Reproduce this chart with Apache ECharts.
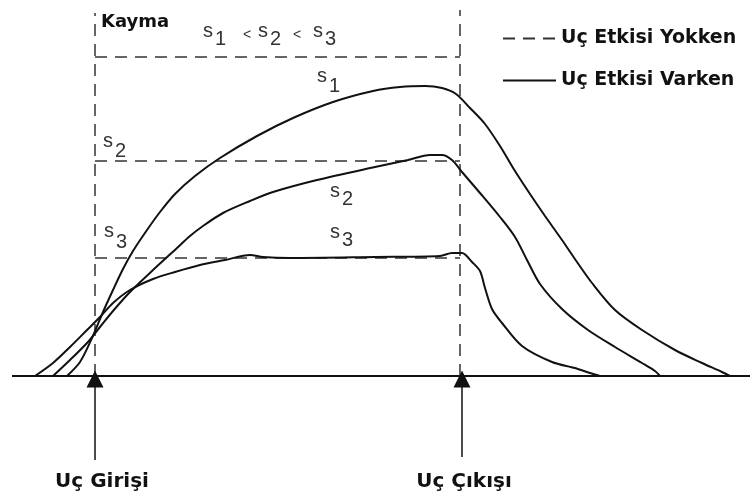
<!DOCTYPE html>
<html><head><meta charset="utf-8">
<script src="https://cdn.jsdelivr.net/npm/echarts@6/dist/echarts.min.js"></script>
<style>html,body{margin:0;padding:0;background:#fff}#c{width:750px;height:502px}</style>
</head><body><div id="c"></div>
<script>
// Slip (Kayma) curves along the contact: x = position, y = slip above baseline
const s1Curve = [[67,0],[80,14],[92,38],[103,64],[113,86],[123,107],[133,125],[147,146],[160,164],[175,182],[195,200],[220,218],[257,240],[293,258],[333,274],[373,285],[400,289],[425,290],[442,288],[456,282],[470,268],[485,252],[500,230],[515,205],[530,182],[545,160],[562,136],[577,114],[592,93],[615,66],[642,46],[675,26],[702,13],[722,4],[730,0]];
const s2Curve = [[53,0],[70,16],[87,33],[100,49],[113,65],[130,84],[153,106],[177,128],[190,140],[203,150],[223,163],[250,175],[273,184],[317,196],[375,209],[408,216],[430,221],[442,221],[452,216],[462,204],[480,183],[500,159],[515,139],[527,116],[540,92],[562,67],[588,46],[615,29],[642,13],[655,5],[660,0]];
const s3Curve = [[35,0],[53,13],[70,29],[87,46],[100,59],[113,73],[130,86],[153,97],[175,104],[200,111],[225,116],[250,121],[263,119],[290,118],[375,119],[440,120],[452,123],[462,123],[472,114],[480,105],[485,88],[492,67],[502,53],[522,30],[552,14],[575,8],[590,3],[600,0]];
// Dashed reference lines (no tip effect)
const entryLine = [[95,0],[95,363]];
const exitLine  = [[460,0],[460,366]];
const s1Level = [[95,319],[460,319]];
const s2Level = [[95,215],[460,215]];
const s3Level = [[95,118],[460,118]];
const baseLine = [[12,0],[750,0]];
const arrows = [[[95,-84],[95,-3]], [[462,-81],[462,-3]]];
const legendNames = ['Uç Etkisi Yokken','Uç Etkisi Varken'];

const chart = echarts.init(document.getElementById('c'));
const dashStyle = {color:'#333', width:1.5, type:[12,8]};
const dashed = (d) => ({type:'line', name:legendNames[0], data:d, color:'#333', showSymbol:false, symbol:'none', lineStyle:dashStyle, silent:true, z:2});
const curve = (d) => ({type:'line', name:legendNames[1], data:d, color:'#111', smooth:0.3, showSymbol:false, symbol:'none', lineStyle:{color:'#111', width:2}, silent:true, z:3});

function sLab(x, base, n, size, dy){
  return [
    {type:'text', x:x, y:base, style:{text:'s', font:size+'px "Liberation Sans"', fill:'#333', verticalAlign:'bottom', align:'left'}},
    {type:'text', x:x+size*0.6, y:base+dy, style:{text:String(n), font:size+'px "Liberation Sans"', fill:'#333', verticalAlign:'bottom', align:'left'}}
  ];
}
const graphics = [
  {type:'text', x:101, y:22, style:{text:'Kayma', font:'bold 18px "DejaVu Sans"', fill:'#111', verticalAlign:'middle'}},
  ...sLab(203,41,1,20,8),
  {type:'text', x:243, y:35, style:{text:'<', font:'14px "Liberation Sans"', fill:'#333', verticalAlign:'middle'}},
  ...sLab(258,41,2,20,8),
  {type:'text', x:293, y:35, style:{text:'<', font:'14px "Liberation Sans"', fill:'#333', verticalAlign:'middle'}},
  ...sLab(313,41,3,20,8),
  ...sLab(317,86,1,20,10),
  ...sLab(103,151,2,20,10),
  ...sLab(330,201,2,20,8),
  ...sLab(104,241,3,20,11),
  ...sLab(330,242,3,20,8),
  {type:'text', x:102, y:482, style:{text:'Uç Girişi', font:'bold 20px "DejaVu Sans"', fill:'#111', align:'center', verticalAlign:'middle'}},
  {type:'text', x:464, y:482, style:{text:'Uç Çıkışı', font:'bold 20px "DejaVu Sans"', fill:'#111', align:'center', verticalAlign:'middle'}}
];

const legendText = {fontFamily:'DejaVu Sans', fontWeight:'bold', fontSize:19, color:'#111'};
chart.setOption({
  animation:false,
  backgroundColor:'#fff',
  grid:{left:0,right:0,top:0,bottom:0},
  xAxis:{type:'value', min:0, max:750, show:false},
  yAxis:{type:'value', min:-126, max:376, show:false},
  legend:[
    {data:[legendNames[0]], left:502, top:29, padding:0, itemWidth:53, itemHeight:14, selectedMode:false, itemStyle:{opacity:0}, textStyle:legendText},
    {data:[legendNames[1]], left:502, top:71, padding:0, itemWidth:53, itemHeight:14, selectedMode:false, itemStyle:{opacity:0}, textStyle:legendText}
  ],
  series:[
    dashed(entryLine), dashed(exitLine), dashed(s1Level), dashed(s2Level), dashed(s3Level),
    {type:'line', name:'baseline', data:baseLine, showSymbol:false, symbol:'none', lineStyle:{color:'#111', width:2}, silent:true, z:1},
    curve(s1Curve), curve(s2Curve), curve(s3Curve),
    {type:'lines', coordinateSystem:'cartesian2d', data:arrows.map(c=>({coords:c})), symbol:['none','triangle'], symbolSize:[11,17], lineStyle:{color:'#111', width:1.5, opacity:1}, silent:true, z:4}
  ],
  graphic:graphics
});
</script></body></html>
